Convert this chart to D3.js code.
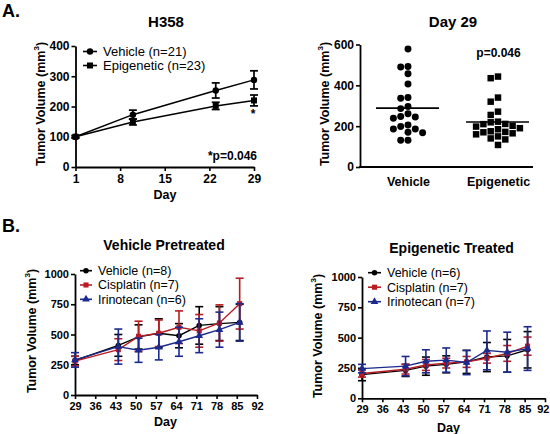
<!DOCTYPE html>
<html><head><meta charset="utf-8">
<script src="https://cdn.jsdelivr.net/npm/d3@7"></script>
<style>body{margin:0;background:#fff} svg{display:block} text{font-family:"Liberation Sans",Arial,sans-serif;fill:#000}</style>
</head><body><svg id="c" width="550" height="434"></svg>
<script>
// ---------- data ----------
const h358Days = [1, 10, 23, 29];
const h358Ticks = [1, 8, 15, 22, 29];
const h358YTicks = [0, 100, 200, 300, 400];
const h358Vehicle = [100, 173, 253, 288];
const h358VehicleSem = [4, 15, 25, 30];
const h358Epi = [100, 149, 202, 220];
const h358EpiSem = [4, 10, 12, 18];

const day29Categories = ["Vehicle", "Epigenetic"];
const day29YTicks = [0, 200, 400, 600];
const day29Vehicle = [578, 492, 490, 457, 407, 340, 337, 296, 286, 261, 247, 245, 239, 206, 198, 186, 186, 170, 168, 131, 131];
const day29Epi = [443, 435, 340, 320, 271, 255, 222, 219, 211, 210, 202, 198, 190, 185, 175, 172, 170, 165, 160, 150, 140, 135, 108];

const bDays = [29, 44, 51, 58, 65, 72, 79, 86];
const bTicks = [29, 36, 43, 50, 57, 64, 71, 78, 85, 92];
const bYTicks = [0, 250, 500, 750, 1000];

const vpVehicle = [285, 410, 480, 510, 490, 575, 590, 600];
const vpVehicleSem = [35, 90, 100, 120, 100, 155, 140, 150];
const vpCisplatin = [280, 375, 485, 510, 560, 530, 595, 755];
const vpCisplatinSem = [40, 90, 125, 110, 135, 135, 150, 210];
const vpIrinotecan = [290, 400, 370, 395, 440, 490, 540, 600];
const vpIrinotecanSem = [60, 145, 100, 105, 120, 140, 145, 155];

const etVehicle = [195, 230, 265, 280, 300, 340, 350, 400];
const etVehicleSem = [50, 50, 75, 70, 95, 120, 135, 150];
const etCisplatin = [205, 240, 275, 290, 300, 330, 370, 430];
const etCisplatinSem = [30, 40, 45, 40, 45, 40, 65, 75];
const etIrinotecan = [245, 265, 305, 315, 295, 395, 380, 410];
const etIrinotecanSem = [35, 80, 95, 100, 100, 160, 165, 180];

// ---------- drawing ----------
const svg = d3.select("#c");
const RED = "#b81d24", BLUE = "#1b2a8c", BLACK = "#000";
const fmt = d3.format("d");

function text(x, y, s, size, weight, anchor) {
  return svg.append("text").attr("x", x).attr("y", y).attr("dy", "0.35em")
    .attr("font-size", size).attr("font-weight", weight || "normal")
    .attr("text-anchor", anchor || "middle").text(s);
}
function yTitle(x, y, size) {
  const t = svg.append("text").attr("transform", `translate(${x},${y}) rotate(-90)`)
    .attr("text-anchor", "middle").attr("dy", "0.35em")
    .attr("font-size", size).attr("font-weight", "bold");
  t.append("tspan").text("Tumor Volume (mm");
  t.append("tspan").attr("dy", -6).attr("font-size", size * 0.65).text("3");
  t.append("tspan").attr("dy", 6).text(")");
}
function styleAxis(g, size) {
  g.selectAll(".domain").attr("stroke", "#000").attr("stroke-width", 1.8);
  g.selectAll(".tick line").attr("stroke", "#000").attr("stroke-width", 1.6);
  g.selectAll(".tick text").attr("font-size", size).attr("font-weight", "bold")
    .attr("font-family", "Liberation Sans, Arial, sans-serif").attr("fill", "#000");
}

function linePanel(o) {
  const x = d3.scaleLinear().domain(o.xDomain).range([o.x0, o.x1]);
  const y = d3.scaleLinear().domain(o.yDomain).range([o.yBot, o.yTop]);
  const gy = svg.append("g").attr("transform", `translate(${o.x0},0)`)
    .call(d3.axisLeft(y).tickValues(o.yTicks).tickFormat(fmt).tickSize(4).tickSizeOuter(0).tickPadding(2));
  styleAxis(gy, o.tickSize);
  const gx = svg.append("g").attr("transform", `translate(0,${o.yBot})`)
    .call(d3.axisBottom(x).tickValues(o.xTicks).tickFormat(fmt).tickSize(4).tickSizeOuter(0).tickPadding(3));
  styleAxis(gx, o.tickSize);
  if (o.clampLast) {
    gx.selectAll(".tick text").filter((d, i, n) => i === n.length - 1)
      .attr("text-anchor", "end").attr("x", 549 - x(o.xTicks[o.xTicks.length - 1]));
  }
  const line = d3.line().x(d => x(d[0])).y(d => y(d[1]));
  o.series.forEach(s => {
    const g = svg.append("g");
    const pts = s.days.map((d, i) => [d, s.vals[i], s.sem[i]]);
    pts.forEach(p => {
      const cx = x(p[0]), yt = y(p[1] + p[2]), yb = y(p[1] - p[2]);
      g.append("line").attr("x1", cx).attr("x2", cx).attr("y1", yt).attr("y2", yb)
        .attr("stroke", s.color).attr("stroke-width", o.errW);
      [yt, yb].forEach(yy => g.append("line").attr("x1", cx - o.cap).attr("x2", cx + o.cap)
        .attr("y1", yy).attr("y2", yy).attr("stroke", s.color).attr("stroke-width", o.errW));
    });
    g.append("path").attr("d", line(pts)).attr("fill", "none")
      .attr("stroke", s.color).attr("stroke-width", o.lineW);
    pts.forEach(p => g.append("path").attr("d", d3.symbol().type(s.symbol).size(s.size)())
      .attr("transform", `translate(${x(p[0])},${y(p[1])})`).attr("fill", s.color));
  });
  o.series.forEach((s, i) => {
    const yy = o.legY + i * o.legDy;
    svg.append("line").attr("x1", o.legX).attr("x2", o.legX + o.legLen).attr("y1", yy).attr("y2", yy)
      .attr("stroke", s.color).attr("stroke-width", 1.6);
    svg.append("path").attr("d", d3.symbol().type(s.symbol).size(s.size)())
      .attr("transform", `translate(${o.legX + o.legLen / 2},${yy})`).attr("fill", s.color);
    text(o.legX + o.legLen + 6, yy, s.label, o.legSize, "normal", "start");
  });
  return { x, y };
}

// panel labels
text(2, 11, "A.", 18, "bold", "start");
text(2, 226, "B.", 18, "bold", "start");

// ---- A1: H358 ----
text(166, 22, "H358", 15, "bold");
yTitle(41, 104, 12.5);
text(165, 195, "Day", 12.5, "bold");
linePanel({
  x0: 75.5, x1: 254, yTop: 46, yBot: 167,
  xDomain: [1, 29], yDomain: [0, 400], xTicks: h358Ticks, yTicks: h358YTicks,
  tickSize: 12, errW: 1.7, lineW: 1.5, cap: 4,
  legX: 83, legLen: 14, legY: 51.5, legDy: 14, legSize: 13,
  series: [
    { days: h358Days, vals: h358Vehicle, sem: h358VehicleSem, color: BLACK, symbol: d3.symbolCircle, size: 32, label: "Vehicle (n=21)" },
    { days: h358Days, vals: h358Epi, sem: h358EpiSem, color: BLACK, symbol: d3.symbolSquare, size: 36, label: "Epigenetic (n=23)" }
  ]
});
text(253, 114, "*", 12, "bold");
text(257, 156, "*p=0.046", 12, "bold", "end");

// ---- A2: Day 29 ----
text(453, 22, "Day 29", 15, "bold");
yTitle(325, 104, 12.5);
{
  const xc = d3.scalePoint().domain(day29Categories).range([408, 498]);
  const y = d3.scaleLinear().domain([0, 600]).range([167, 44.5]);
  const gy = svg.append("g").attr("transform", "translate(360,0)")
    .call(d3.axisLeft(y).tickValues(day29YTicks).tickFormat(fmt).tickSize(4).tickSizeOuter(0).tickPadding(2));
  styleAxis(gy, 12);
  const gx = svg.append("g").attr("transform", "translate(0,167)")
    .call(d3.axisBottom(xc).tickSize(0).tickPadding(10));
  gx.select(".domain").remove();
  styleAxis(gx, 12.5);
  svg.append("line").attr("x1", 359.1).attr("x2", 533).attr("y1", 167).attr("y2", 167)
    .attr("stroke", "#000").attr("stroke-width", 1.8);

  function swarm(vals, step, dmin) {
    const order = vals.map((v, i) => i).sort((a, b) => vals[b] - vals[a]);
    const placed = [], off = new Array(vals.length);
    order.forEach(i => {
      const py = y(vals[i]);
      for (let k = 0; k < 20; k++) {
        const c = (k === 0 ? 0 : (k % 2 ? -1 : 1) * Math.ceil(k / 2)) * step;
        if (placed.every(p => Math.hypot(p[0] - c, p[1] - py) >= dmin)) {
          placed.push([c, py]); off[i] = c; break;
        }
      }
    });
    return off;
  }
  const sets = [
    { cat: "Vehicle", vals: day29Vehicle, sym: d3.symbolCircle, size: 38 },
    { cat: "Epigenetic", vals: day29Epi, sym: d3.symbolSquare, size: 42 }
  ];
  sets.forEach(s => {
    const off = swarm(s.vals, 7.3, 6.9);
    s.vals.forEach((v, i) => svg.append("path").attr("d", d3.symbol().type(s.sym).size(s.size)())
      .attr("transform", `translate(${xc(s.cat) + off[i]},${y(v)})`).attr("fill", "#000"));
    const m = d3.mean(s.vals);
    svg.append("line").attr("x1", xc(s.cat) - 32).attr("x2", xc(s.cat) + 31)
      .attr("y1", y(m)).attr("y2", y(m)).attr("stroke", "#000").attr("stroke-width", 1.6);
  });
  text(498.5, 53, "p=0.046", 12, "bold");
}

// ---- B1: Vehicle Pretreated ----
text(164, 245, "Vehicle Pretreated", 14, "bold");
yTitle(31.5, 331, 12.5);
text(165.5, 421.5, "Day", 12.5, "bold");
linePanel({
  x0: 75, x1: 257, yTop: 274, yBot: 395,
  xDomain: [29, 92], yDomain: [0, 1000], xTicks: bTicks, yTicks: bYTicks,
  tickSize: 11, errW: 1.6, lineW: 1.4, cap: 4,
  legX: 80, legLen: 12, legY: 270.7, legDy: 14.3, legSize: 12.5,
  series: [
    { days: bDays, vals: vpVehicle, sem: vpVehicleSem, color: BLACK, symbol: d3.symbolCircle, size: 24, label: "Vehicle (n=8)" },
    { days: bDays, vals: vpCisplatin, sem: vpCisplatinSem, color: RED, symbol: d3.symbolSquare, size: 26, label: "Cisplatin (n=7)" },
    { days: bDays, vals: vpIrinotecan, sem: vpIrinotecanSem, color: BLUE, symbol: d3.symbolTriangle, size: 26, label: "Irinotecan (n=6)" }
  ]
});

// ---- B2: Epigenetic Treated ----
text(451.5, 248, "Epigenetic Treated", 14, "bold");
yTitle(318, 336, 12.5);
text(448.5, 427.5, "Day", 12.5, "bold");
linePanel({
  x0: 362, x1: 545, yTop: 277, yBot: 398.3,
  xDomain: [29, 92], yDomain: [0, 1000], xTicks: bTicks, yTicks: bYTicks,
  tickSize: 11, errW: 1.6, lineW: 1.4, cap: 4, clampLast: true,
  legX: 368, legLen: 13, legY: 272.7, legDy: 14.5, legSize: 12.5,
  series: [
    { days: bDays, vals: etVehicle, sem: etVehicleSem, color: BLACK, symbol: d3.symbolCircle, size: 24, label: "Vehicle (n=6)" },
    { days: bDays, vals: etCisplatin, sem: etCisplatinSem, color: RED, symbol: d3.symbolSquare, size: 26, label: "Cisplatin (n=7)" },
    { days: bDays, vals: etIrinotecan, sem: etIrinotecanSem, color: BLUE, symbol: d3.symbolTriangle, size: 26, label: "Irinotecan (n=7)" }
  ]
});
</script></body></html>
